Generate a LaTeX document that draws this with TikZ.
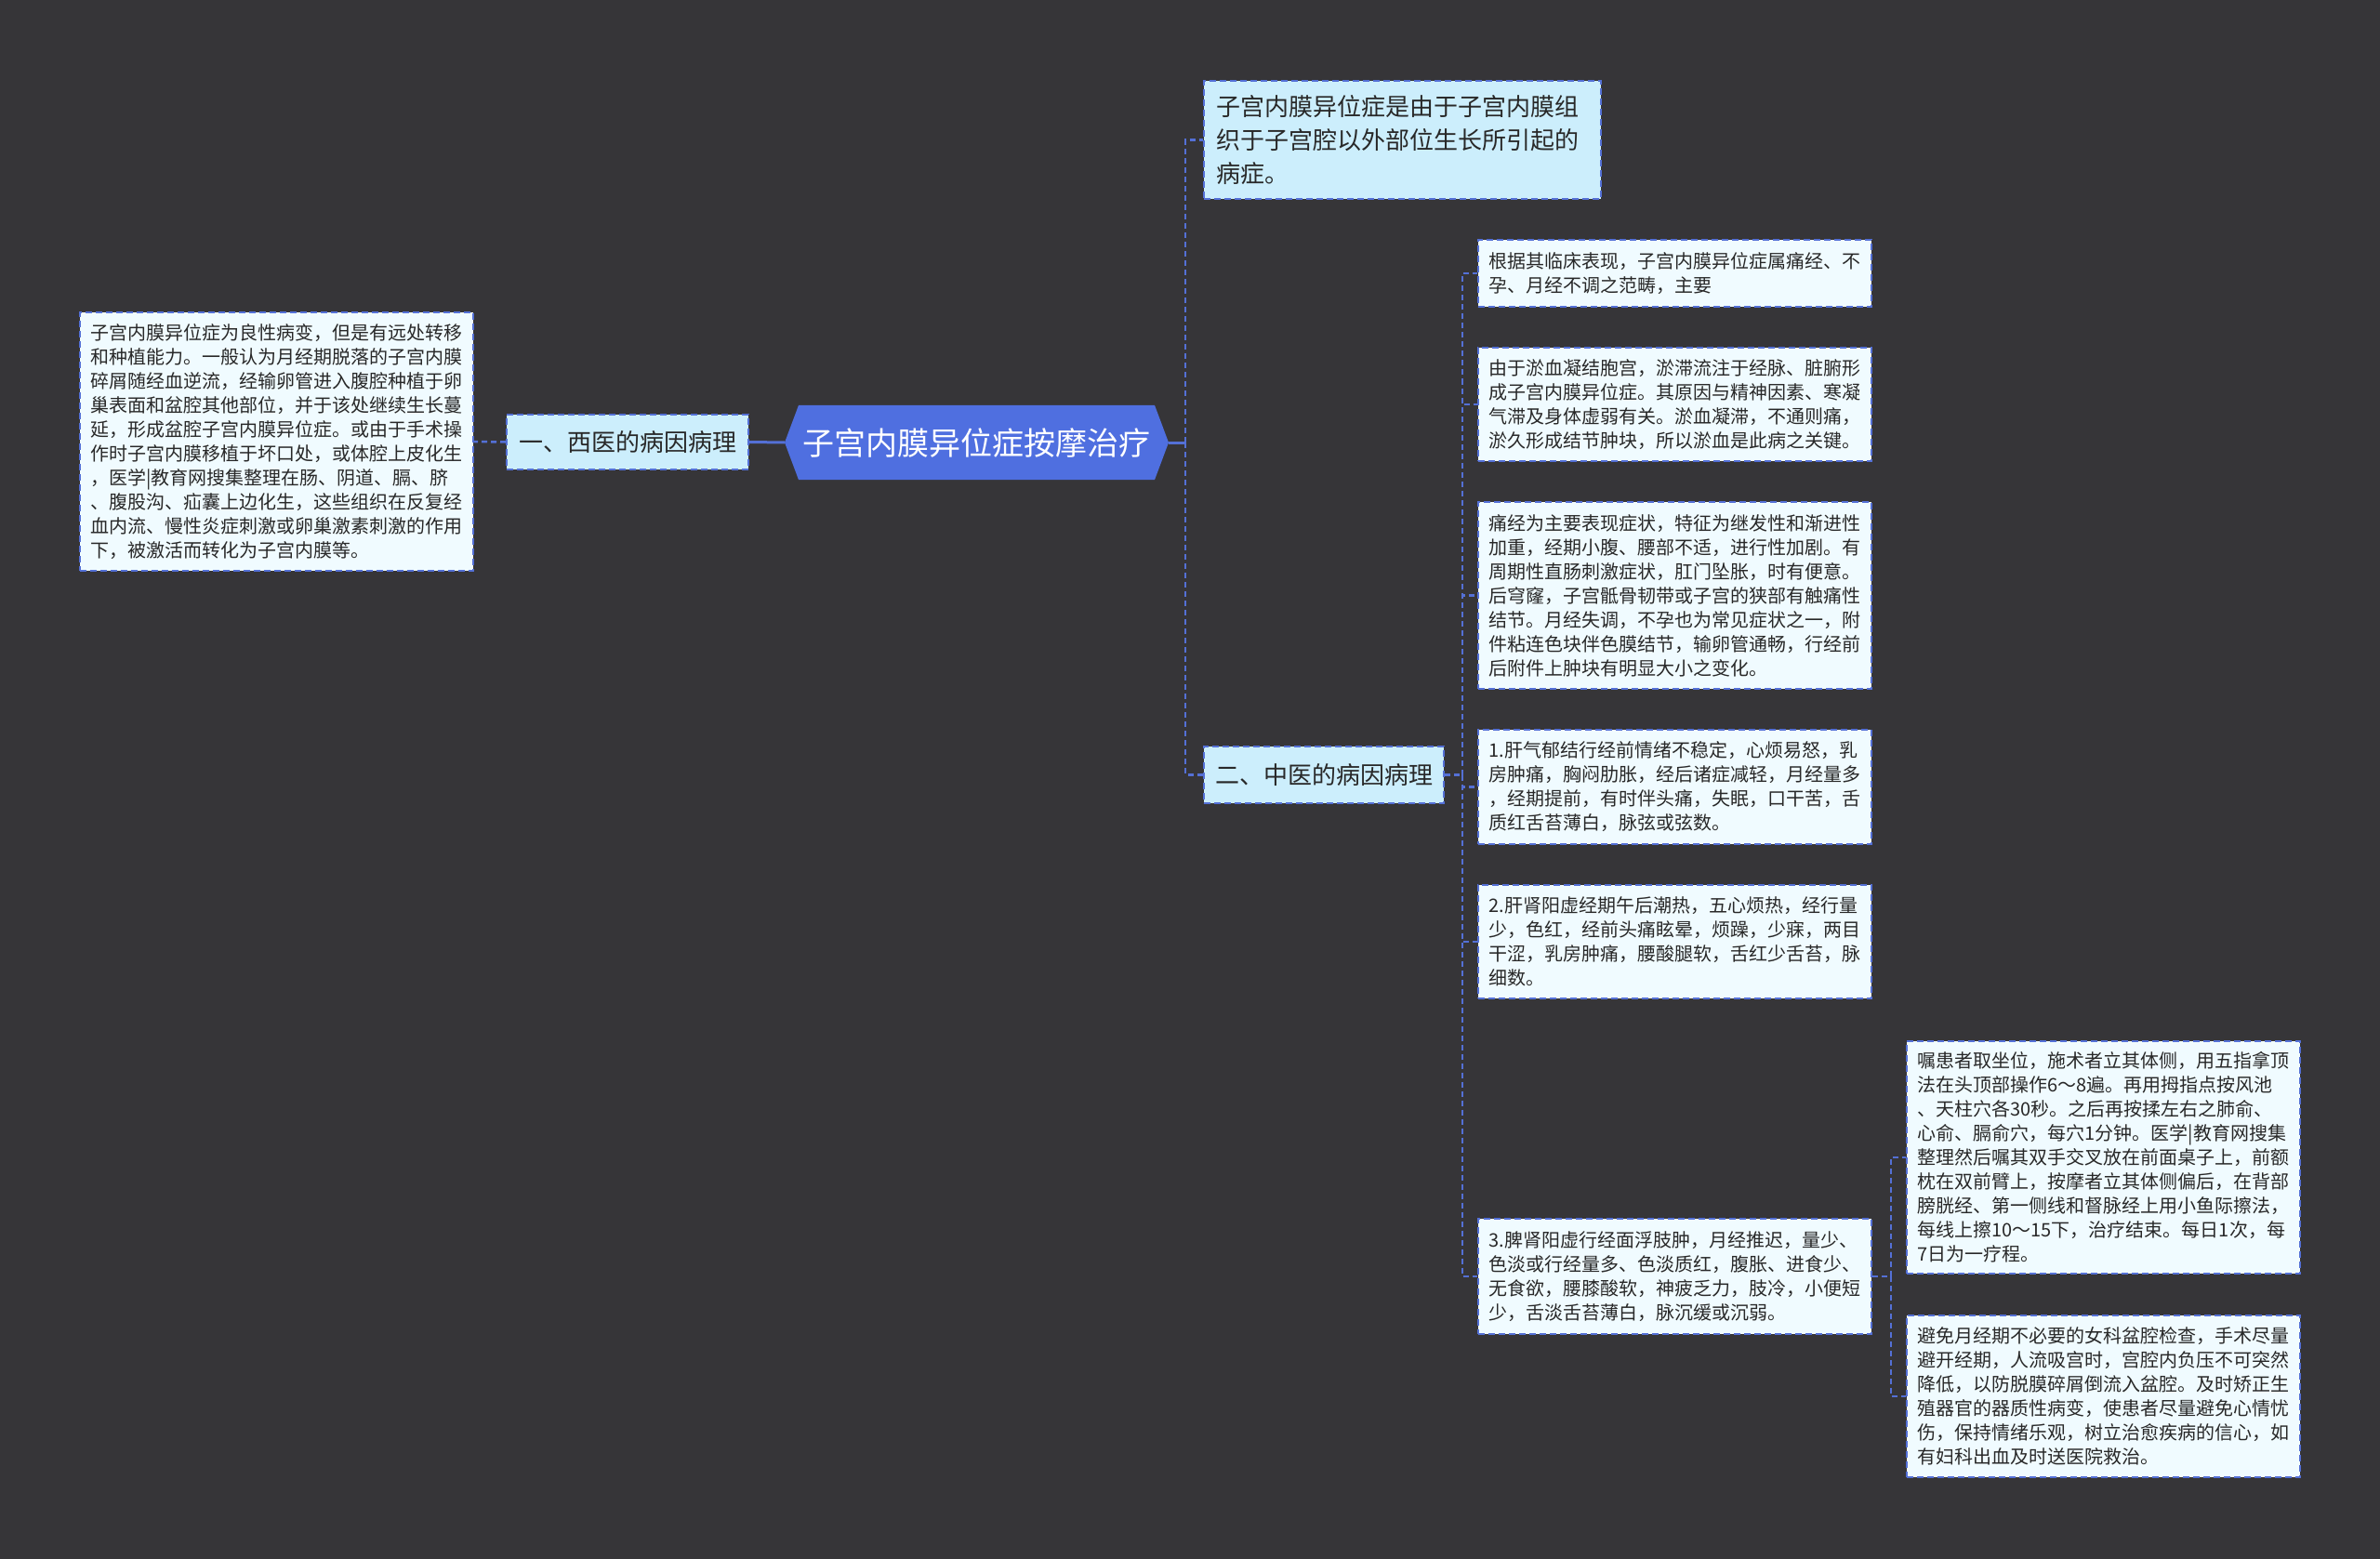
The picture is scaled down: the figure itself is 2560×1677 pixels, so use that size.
\documentclass[tikz,border=0pt]{standalone}
\usepackage{fontspec}
\setmainfont{Noto Sans CJK SC}
\usetikzlibrary{shapes.symbols,calc}
\definecolor{bg}{RGB}{54,53,56}
\definecolor{mainblue}{RGB}{79,111,224}
\definecolor{brfill}{RGB}{204,238,252}
\definecolor{lffill}{RGB}{240,251,255}
\definecolor{bord}{RGB}{84,112,214}
\definecolor{txt}{RGB}{40,40,40}
\tikzset{
  boxbase/.style={draw=bord, line width=2pt, dash pattern=on 7pt off 4pt, text=txt, inner ysep=0pt, align=left},
  leafbox/.style={boxbase, fill=lffill, font=\fontsize{20pt}{26pt}\selectfont, text width=400pt, inner xsep=11.5pt},
  branchbox/.style={boxbase, fill=brfill, font=\fontsize{26pt}{36pt}\selectfont, inner xsep=12pt},
  rootbox/.style={signal, signal to=west and east, signal pointer angle=139, fill=mainblue, draw=none, text=white, font=\fontsize{34pt}{40pt}\selectfont, minimum width=413pt, minimum height=80pt, inner sep=0pt},
  conn/.style={draw=bord, line width=2.5pt, dash pattern=on 6pt off 4pt},
  solidconn/.style={draw=bord, line width=3pt}
}
\begin{document}
\begin{tikzpicture}[x=1pt,y=-1pt]
\useasboundingbox[fill=bg] (0,0) rectangle (2560,1677);

\node[rootbox] (c) at (1050.5,476) {子宫内膜异位症按摩治疗};

\node[branchbox, minimum width=260pt, minimum height=59pt] (b1) at (675,475.5) {一、西医的病因病理};

\node[leafbox, minimum height=278pt] (ll) at (297,475) {子宫内膜异位症为良性病变，但是有远处转移\\和种植能力。一般认为月经期脱落的子宫内膜\\碎屑随经血逆流，经输卵管进入腹腔种植于卵\\巢表面和盆腔其他部位，并于该处继续生长蔓\\延，形成盆腔子宫内膜异位症。或由于手术操\\作时子宫内膜移植于坏口处，或体腔上皮化生\\，医学|教育网搜集整理在肠、阴道、膈、脐\\、腹股沟、疝囊上边化生，这些组织在反复经\\血内流、慢性炎症刺激或卵巢激素刺激的作用\\下，被激活而转化为子宫内膜等。};

\node[branchbox, text width=401pt, inner xsep=13pt, minimum height=127pt] (top) at (1508.5,150.5) {子宫内膜异位症是由于子宫内膜组\\织于子宫腔以外部位生长所引起的\\病症。};

\node[branchbox, minimum width=258pt, minimum height=61pt] (b2) at (1424,833.5) {二、中医的病因病理};

\node[leafbox, minimum height=72pt] (l1) at (1801.5,294) {根据其临床表现，子宫内膜异位症属痛经、不\\孕、月经不调之范畴，主要};

\node[leafbox, minimum height=122pt] (l2) at (1801.5,435) {由于淤血凝结胞宫，淤滞流注于经脉、脏腑形\\成子宫内膜异位症。其原因与精神因素、寒凝\\气滞及身体虚弱有关。淤血凝滞，不通则痛，\\淤久形成结节肿块，所以淤血是此病之关键。};

\node[leafbox, minimum height=201pt] (l3) at (1801.5,640.5) {痛经为主要表现症状，特征为继发性和渐进性\\加重，经期小腹、腰部不适，进行性加剧。有\\周期性直肠刺激症状，肛门坠胀，时有便意。\\后穹窿，子宫骶骨韧带或子宫的狭部有触痛性\\结节。月经失调，不孕也为常见症状之一，附\\件粘连色块伴色膜结节，输卵管通畅，行经前\\后附件上肿块有明显大小之变化。};

\node[leafbox, minimum height=123pt] (l4) at (1801.5,846.5) {1.肝气郁结行经前情绪不稳定，心烦易怒，乳\\房肿痛，胸闷肋胀，经后诸症减轻，月经量多\\，经期提前，有时伴头痛，失眠，口干苦，舌\\质红舌苔薄白，脉弦或弦数。};

\node[leafbox, minimum height=122pt] (l5) at (1801.5,1013) {2.肝肾阳虚经期午后潮热，五心烦热，经行量\\少，色红，经前头痛眩晕，烦躁，少寐，两目\\干涩，乳房肿痛，腰酸腿软，舌红少舌苔，脉\\细数。};

\node[leafbox, minimum height=124pt] (l6) at (1801.5,1373) {3.脾肾阳虚行经面浮肢肿，月经推迟，量少、\\色淡或行经量多、色淡质红，腹胀、进食少、\\无食欲，腰膝酸软，神疲乏力，肢冷，小便短\\少，舌淡舌苔薄白，脉沉缓或沉弱。};

\node[leafbox, minimum height=250pt] (l6a) at (2262.5,1245) {嘱患者取坐位，施术者立其体侧，用五指拿顶\\法在头顶部操作6～8遍。再用拇指点按风池\\、天柱穴各30秒。之后再按揉左右之肺俞、\\心俞、膈俞穴，每穴1分钟。医学|教育网搜集\\整理然后嘱其双手交叉放在前面桌子上，前额\\枕在双前臂上，按摩者立其体侧偏后，在背部\\膀胱经、第一侧线和督脉经上用小鱼际擦法，\\每线上擦10～15下，治疗结束。每日1次，每\\7日为一疗程。};

\node[leafbox, minimum height=174pt] (l6b) at (2262.5,1502) {避免月经期不必要的女科盆腔检查，手术尽量\\避开经期，人流吸宫时，宫腔内负压不可突然\\降低，以防脱膜碎屑倒流入盆腔。及时矫正生\\殖器官的器质性病变，使患者尽量避免心情忧\\伤，保持情绪乐观，树立治愈疾病的信心，如\\有妇科出血及时送医院救治。};

% connectors
\draw[solidconn] (c.west) -- (b1.east);
\draw[conn] (b1.west) -- (ll.east);

\coordinate (t1) at ($(c.east)+(18,0)$);
\draw[solidconn] (c.east) -- (t1);
\draw[conn] (t1) |- (top.west);
\draw[conn] (t1) |- (b2.west);

\coordinate (t2) at ($(b2.east)+(19,0)$);
\draw[conn] (b2.east) -- (t2);
\foreach \n in {l1,l2,l3,l4,l5,l6} {
  \draw[conn] (t2) |- (\n.west);
}

\coordinate (t3) at ($(l6.east)+(20,0)$);
\draw[conn] (l6.east) -- (t3);
\draw[conn] (t3) |- (l6a.west);
\draw[conn] (t3) |- (l6b.west);
\end{tikzpicture}
\end{document}
